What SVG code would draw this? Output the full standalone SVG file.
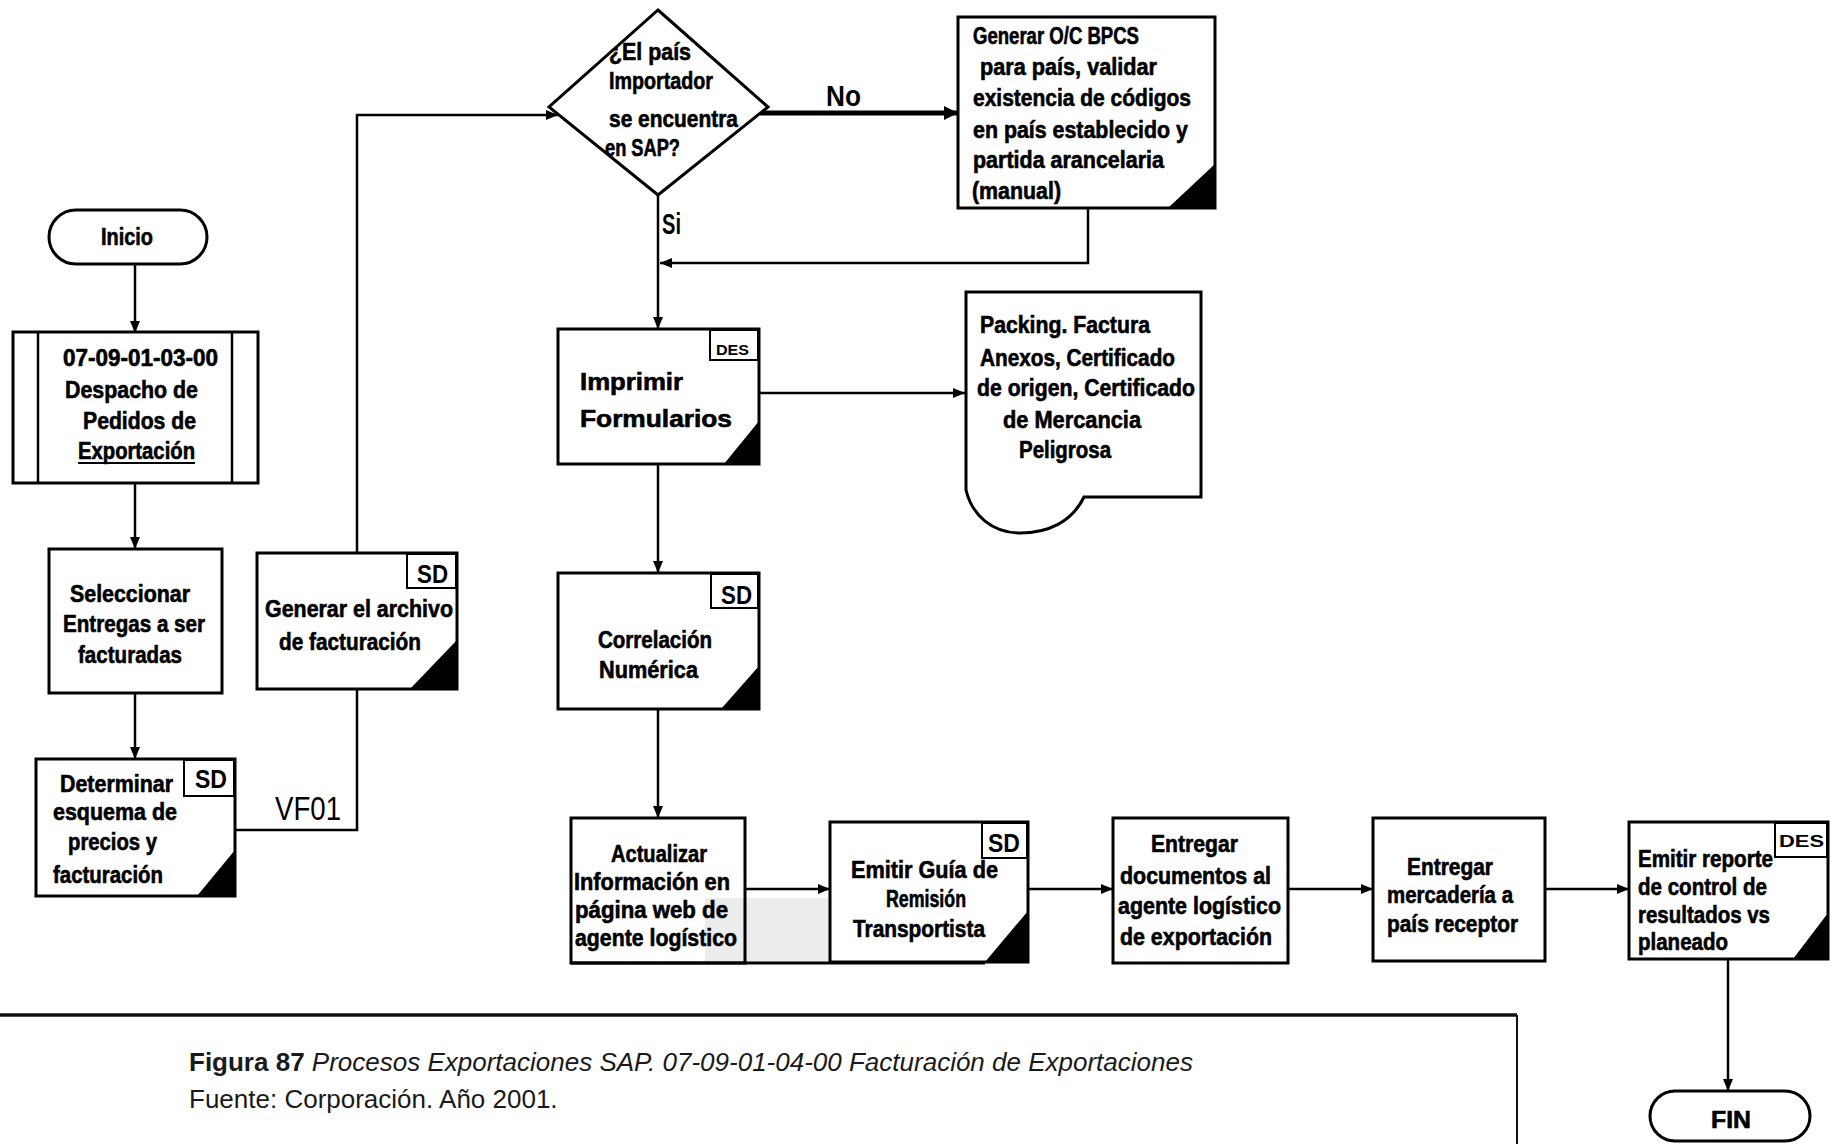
<svg xmlns="http://www.w3.org/2000/svg" width="1832" height="1144" viewBox="0 0 1832 1144">
  <style>
    .box { fill: #fff; stroke: #000; stroke-width: 3; }
    .tag { fill: #fff; stroke: #000; stroke-width: 2; }
    .corner { fill: #000; stroke: none; }
    .t { font-family: "Liberation Sans", Arial, sans-serif; font-weight: bold; font-size: 23px; fill: #000; stroke: #000; stroke-width: 0.6; }
    .tagt { font-family: "Liberation Sans", Arial, sans-serif; font-weight: bold; fill: #000; }
    .lbl { font-family: "Liberation Sans", Arial, sans-serif; fill: #000; }
    .conn { fill: none; stroke: #000; stroke-width: 2.5; }
    .thick { fill: none; stroke: #000; stroke-width: 5; }
    .cap { font-family: "Liberation Sans", Arial, sans-serif; font-size: 26px; fill: #1a1a1a; }
  </style>
  <defs>
    <marker id="arrow" viewBox="0 0 12 10" refX="12" refY="5" markerWidth="12" markerHeight="10" orient="auto" markerUnits="userSpaceOnUse">
      <path d="M0,0 L12,5 L0,10 Z" fill="#000"/>
    </marker>
    <marker id="arrowBig" viewBox="0 0 14 14" refX="14" refY="7" markerWidth="14" markerHeight="14" orient="auto" markerUnits="userSpaceOnUse">
      <path d="M0,0 L14,7 L0,14 Z" fill="#000"/>
    </marker>
  </defs>

  <rect width="1832" height="1144" fill="#fff"/>

  <!-- connectors -->
  <g id="connectors">
    <path class="conn" d="M135,264 V333" marker-end="url(#arrow)"/>
    <path class="conn" d="M135,483 V549" marker-end="url(#arrow)"/>
    <path class="conn" d="M135,693 V759" marker-end="url(#arrow)"/>
    <path class="conn" d="M235,830 H357 V689"/>
    <path class="conn" d="M357,553 V115 H558" marker-end="url(#arrow)"/>
    <path class="thick" d="M760,113 H958" marker-end="url(#arrowBig)"/>
    <path class="conn" d="M1088,208 V263 H660" marker-end="url(#arrow)"/>
    <path class="conn" d="M658,195 V329" marker-end="url(#arrow)"/>
    <path class="conn" d="M759,393 H965" marker-end="url(#arrow)"/>
    <path class="conn" d="M658,464 V573" marker-end="url(#arrow)"/>
    <path class="conn" d="M658,709 V818" marker-end="url(#arrow)"/>
    <path class="conn" d="M745,889 H830" marker-end="url(#arrow)"/>
    <path class="conn" d="M1028,889 H1113" marker-end="url(#arrow)"/>
    <path class="conn" d="M1288,889 H1373" marker-end="url(#arrow)"/>
    <path class="conn" d="M1545,889 H1629" marker-end="url(#arrow)"/>
    <path class="conn" d="M1728,960 V1091" marker-end="url(#arrow)"/>
    <text class="lbl" x="275" y="820" font-size="34" textLength="66" lengthAdjust="spacingAndGlyphs">VF01</text>
    <text class="lbl" x="826" y="106" font-size="29" font-weight="bold" textLength="35" lengthAdjust="spacingAndGlyphs">No</text>
    <text class="lbl" x="662" y="234" font-size="29" font-weight="bold" textLength="19" lengthAdjust="spacingAndGlyphs">Si</text>
  </g>

  <!-- start terminator -->
  <g id="inicio">
    <rect class="box" x="49" y="210" width="158" height="54" rx="27"/>
    <text class="t" x="101" y="245" font-size="26" textLength="52" lengthAdjust="spacingAndGlyphs">Inicio</text>
  </g>

  <!-- predefined sub-process -->
  <g id="despacho">
    <rect class="box" x="13" y="332" width="245" height="151"/>
    <line x1="38" y1="332" x2="38" y2="483" stroke="#000" stroke-width="2.5"/>
    <line x1="232" y1="332" x2="232" y2="483" stroke="#000" stroke-width="2.5"/>
    <text class="t" x="63" y="366" font-size="25" textLength="155" lengthAdjust="spacingAndGlyphs">07-09-01-03-00</text>
    <text class="t" x="65" y="398" font-size="25" textLength="133" lengthAdjust="spacingAndGlyphs">Despacho de</text>
    <text class="t" x="83" y="429" font-size="25" textLength="113" lengthAdjust="spacingAndGlyphs">Pedidos de</text>
    <text class="t" x="78" y="459" font-size="25" textLength="117" lengthAdjust="spacingAndGlyphs">Exportación</text>
    <line x1="78" y1="463" x2="195" y2="463" stroke="#000" stroke-width="2"/>
  </g>

  <g id="seleccionar">
    <rect class="box" x="49" y="549" width="173" height="144"/>
    <text class="t" x="70" y="602" textLength="120" lengthAdjust="spacingAndGlyphs">Seleccionar</text>
    <text class="t" x="63" y="632" textLength="142" lengthAdjust="spacingAndGlyphs">Entregas a ser</text>
    <text class="t" x="78" y="663" textLength="104" lengthAdjust="spacingAndGlyphs">facturadas</text>
  </g>

  <g id="determinar">
    <rect class="box" x="36" y="759" width="199" height="137"/>
    <rect class="tag" x="184" y="760" width="50" height="36"/>
    <text class="tagt" x="195" y="788" font-size="25" textLength="32" lengthAdjust="spacingAndGlyphs">SD</text>
    <polygon class="corner" points="235,850 235,896 197,896"/>
    <text class="t" x="60" y="792" textLength="113" lengthAdjust="spacingAndGlyphs">Determinar</text>
    <text class="t" x="53" y="820" textLength="124" lengthAdjust="spacingAndGlyphs">esquema de</text>
    <text class="t" x="68" y="850" textLength="89" lengthAdjust="spacingAndGlyphs">precios y</text>
    <text class="t" x="53" y="883" textLength="110" lengthAdjust="spacingAndGlyphs">facturación</text>
  </g>

  <g id="generar-archivo">
    <rect class="box" x="257" y="553" width="200" height="136"/>
    <rect class="tag" x="407" y="554" width="49" height="34"/>
    <text class="tagt" x="417" y="583" font-size="26" textLength="31" lengthAdjust="spacingAndGlyphs">SD</text>
    <polygon class="corner" points="457,640 457,689 410,689"/>
    <text class="t" x="265" y="617" textLength="188" lengthAdjust="spacingAndGlyphs">Generar el archivo</text>
    <text class="t" x="279" y="650" textLength="142" lengthAdjust="spacingAndGlyphs">de facturación</text>
  </g>

  <!-- decision -->
  <g id="decision">
    <polygon class="box" points="658,10 768,107 658,195 549,107"/>
    <text class="t" x="609" y="60" font-size="22" textLength="82" lengthAdjust="spacingAndGlyphs">¿El país</text>
    <text class="t" x="609" y="89" font-size="22" textLength="104" lengthAdjust="spacingAndGlyphs">Importador</text>
    <text class="t" x="609" y="127" font-size="22" textLength="129" lengthAdjust="spacingAndGlyphs">se encuentra</text>
    <text class="t" x="605" y="156" font-size="22" textLength="75" lengthAdjust="spacingAndGlyphs">en SAP?</text>
  </g>

  <g id="generar-oc">
    <rect class="box" x="958" y="17" width="257" height="191"/>
    <polygon class="corner" points="1215,164 1215,208 1168,208"/>
    <text class="t" x="973" y="44" font-size="22" textLength="166" lengthAdjust="spacingAndGlyphs">Generar O/C BPCS</text>
    <text class="t" x="980" y="75" font-size="22" textLength="177" lengthAdjust="spacingAndGlyphs">para país, validar</text>
    <text class="t" x="973" y="106" font-size="22" textLength="218" lengthAdjust="spacingAndGlyphs">existencia de códigos</text>
    <text class="t" x="973" y="138" font-size="22" textLength="215" lengthAdjust="spacingAndGlyphs">en país establecido y</text>
    <text class="t" x="973" y="168" font-size="22" textLength="191" lengthAdjust="spacingAndGlyphs">partida arancelaria</text>
    <text class="t" x="972" y="199" font-size="22" textLength="89" lengthAdjust="spacingAndGlyphs">(manual)</text>
  </g>

  <g id="imprimir">
    <rect class="box" x="558" y="329" width="201" height="135"/>
    <rect class="tag" x="710" y="330" width="48" height="30"/>
    <text class="tagt" x="716" y="355" font-size="15" textLength="33" lengthAdjust="spacingAndGlyphs">DES</text>
    <polygon class="corner" points="759,421 759,464 724,464"/>
    <text class="t" x="580" y="390" font-size="29" textLength="103" lengthAdjust="spacingAndGlyphs">Imprimir</text>
    <text class="t" x="580" y="427" font-size="29" textLength="152" lengthAdjust="spacingAndGlyphs">Formularios</text>
  </g>

  <!-- document output -->
  <g id="packing">
    <path class="box" d="M966,292 H1201 V497 H1084 C1072,522 1048,533 1020,533 C992,533 972,515 966,490 Z"/>
    <text class="t" x="980" y="333" font-size="22" textLength="170" lengthAdjust="spacingAndGlyphs">Packing. Factura</text>
    <text class="t" x="980" y="366" font-size="22" textLength="195" lengthAdjust="spacingAndGlyphs">Anexos, Certificado</text>
    <text class="t" x="977" y="396" font-size="22" textLength="218" lengthAdjust="spacingAndGlyphs">de origen, Certificado</text>
    <text class="t" x="1003" y="428" font-size="22" textLength="138" lengthAdjust="spacingAndGlyphs">de Mercancia</text>
    <text class="t" x="1019" y="458" font-size="22" textLength="92" lengthAdjust="spacingAndGlyphs">Peligrosa</text>
  </g>

  <g id="correlacion">
    <rect class="box" x="558" y="573" width="201" height="136"/>
    <rect class="tag" x="711" y="574" width="47" height="34"/>
    <text class="tagt" x="721" y="604" font-size="26" textLength="31" lengthAdjust="spacingAndGlyphs">SD</text>
    <polygon class="corner" points="759,666 759,709 721,709"/>
    <text class="t" x="598" y="648" textLength="114" lengthAdjust="spacingAndGlyphs">Correlación</text>
    <text class="t" x="599" y="678" textLength="99" lengthAdjust="spacingAndGlyphs">Numérica</text>
  </g>

  <g id="actualizar">
    <rect x="705" y="898" width="125" height="64" fill="#ececec"/>
    <rect x="571" y="818" width="174" height="145" fill="none" stroke="#000" stroke-width="3"/>
    <line x1="571" y1="963" x2="985" y2="963" stroke="#000" stroke-width="3"/>
    <text class="t" x="611" y="862" textLength="96" lengthAdjust="spacingAndGlyphs">Actualizar</text>
    <text class="t" x="574" y="890" textLength="156" lengthAdjust="spacingAndGlyphs">Información en</text>
    <text class="t" x="575" y="918" textLength="153" lengthAdjust="spacingAndGlyphs">página web de</text>
    <text class="t" x="575" y="946" textLength="162" lengthAdjust="spacingAndGlyphs">agente logístico</text>
  </g>

  <g id="emitir-guia">
    <rect class="box" x="830" y="822" width="198" height="140"/>
    <rect class="tag" x="982" y="823" width="45" height="35"/>
    <text class="tagt" x="988" y="852" font-size="25" textLength="32" lengthAdjust="spacingAndGlyphs">SD</text>
    <polygon class="corner" points="1028,911 1028,962 985,962"/>
    <text class="t" x="851" y="878" textLength="147" lengthAdjust="spacingAndGlyphs">Emitir Guía de</text>
    <text class="t" x="886" y="907" textLength="80" lengthAdjust="spacingAndGlyphs">Remisión</text>
    <text class="t" x="853" y="937" textLength="132" lengthAdjust="spacingAndGlyphs">Transportista</text>
  </g>

  <g id="entregar-documentos">
    <rect class="box" x="1113" y="818" width="175" height="145"/>
    <text class="t" x="1151" y="852" textLength="87" lengthAdjust="spacingAndGlyphs">Entregar</text>
    <text class="t" x="1120" y="884" textLength="151" lengthAdjust="spacingAndGlyphs">documentos al</text>
    <text class="t" x="1118" y="914" textLength="163" lengthAdjust="spacingAndGlyphs">agente logístico</text>
    <text class="t" x="1120" y="945" textLength="152" lengthAdjust="spacingAndGlyphs">de exportación</text>
  </g>

  <g id="entregar-mercaderia">
    <rect class="box" x="1373" y="818" width="172" height="143"/>
    <text class="t" x="1407" y="875" textLength="86" lengthAdjust="spacingAndGlyphs">Entregar</text>
    <text class="t" x="1387" y="903" textLength="126" lengthAdjust="spacingAndGlyphs">mercadería a</text>
    <text class="t" x="1387" y="932" textLength="131" lengthAdjust="spacingAndGlyphs">país receptor</text>
  </g>

  <g id="emitir-reporte">
    <rect class="box" x="1629" y="822" width="199" height="137"/>
    <rect class="tag" x="1775" y="823" width="52" height="34"/>
    <text class="tagt" x="1779" y="847" font-size="17" textLength="45" lengthAdjust="spacingAndGlyphs">DES</text>
    <polygon class="corner" points="1828,913 1828,959 1793,959"/>
    <text class="t" x="1638" y="867" textLength="135" lengthAdjust="spacingAndGlyphs">Emitir reporte</text>
    <text class="t" x="1638" y="895" textLength="129" lengthAdjust="spacingAndGlyphs">de control de</text>
    <text class="t" x="1638" y="923" textLength="132" lengthAdjust="spacingAndGlyphs">resultados vs</text>
    <text class="t" x="1638" y="950" textLength="90" lengthAdjust="spacingAndGlyphs">planeado</text>
  </g>

  <!-- end terminator -->
  <g id="fin">
    <rect class="box" x="1650" y="1091" width="160" height="50" rx="25"/>
    <text class="t" x="1711" y="1128" font-size="30" textLength="40" lengthAdjust="spacingAndGlyphs">FIN</text>
  </g>

  <!-- caption frame -->
  <g id="caption">
    <line x1="0" y1="1015" x2="1517" y2="1015" stroke="#111" stroke-width="3.5"/>
    <line x1="1517" y1="1015" x2="1517" y2="1144" stroke="#111" stroke-width="2"/>
    <text class="cap" x="189" y="1071"><tspan font-weight="bold">Figura 87</tspan> <tspan font-style="italic">Procesos Exportaciones SAP. 07-09-01-04-00 Facturación de Exportaciones</tspan></text>
    <text class="cap" x="189" y="1108">Fuente: Corporación. Año 2001.</text>
  </g>
</svg>
